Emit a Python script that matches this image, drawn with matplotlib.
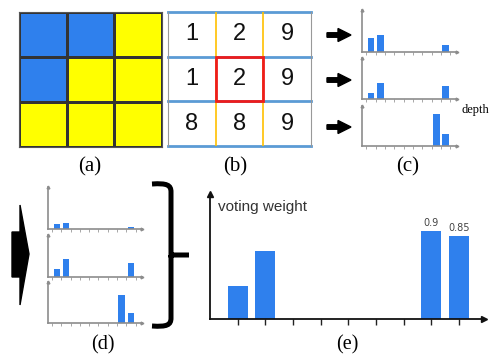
import numpy as np
import matplotlib
matplotlib.use("Agg")
import matplotlib.pyplot as plt
from matplotlib.colors import ListedColormap
from matplotlib.patches import Rectangle, Polygon, FancyArrow, PathPatch
from matplotlib.path import Path

# colour map of the 3x3 patch (1 = blue, 0 = yellow)
patch_cls = [[1, 1, 0],
             [1, 0, 0],
             [0, 0, 0]]
# depth values of the same patch
patch_depth = [[1, 2, 9],
               [1, 2, 9],
               [8, 8, 9]]

# per-row depth histograms (bin index 1..9)
bins = np.arange(1, 10)
hist_c = [[0.33, 0.40, 0, 0, 0, 0, 0, 0, 0.17],
          [0.14, 0.40, 0, 0, 0, 0, 0, 0, 0.31],
          [0, 0, 0, 0, 0, 0, 0, 0.81, 0.31]]
# weighted histograms
hist_d = [[0.12, 0.14, 0, 0, 0, 0, 0, 0, 0.05],
          [0.19, 0.43, 0, 0, 0, 0, 0, 0, 0.33],
          [0, 0, 0, 0, 0, 0, 0, 0.69, 0.24]]
# summed voting weight
vote = [0.34, 0.70, 0, 0, 0, 0, 0, 0.9, 0.85]
vote_labels = {8: "0.9", 9: "0.85"}

BLUE = "#2f80ed"
YELLOW = "#ffff00"
W, H = 494, 357

fig = plt.figure(figsize=(W / 100, H / 100), dpi=100)


def box(x0, y0, x1, y1):
    return [x0 / W, 1 - y1 / H, (x1 - x0) / W, (y1 - y0) / H]


def axis_arrows(ax, color, size, lw):
    for s in ["top", "right"]:
        ax.spines[s].set_visible(False)
    for s in ["left", "bottom"]:
        ax.spines[s].set_color(color)
        ax.spines[s].set_linewidth(lw)
    ax.plot(1, 0, ">", color=color, ms=size, transform=ax.get_yaxis_transform(), clip_on=False)
    ax.plot(0, 1, "^", color=color, ms=size, transform=ax.get_xaxis_transform(), clip_on=False)


# (a) colour grid
ax = fig.add_axes(box(19, 12, 162, 147))
ax.pcolormesh(np.array(patch_cls), cmap=ListedColormap([YELLOW, BLUE]),
              edgecolors="#333333", linewidth=0.8)
ax.set_xlim(0, 3)
ax.set_ylim(3, 0)
ax.set_xticks([])
ax.set_yticks([])
for s in ax.spines.values():
    s.set_color("#555555")
    s.set_linewidth(0.8)

# (b) depth grid
ax = fig.add_axes(box(168, 12, 311, 146))
ax.set_xlim(0, 3)
ax.set_ylim(3, 0)
ax.set_xticks([])
ax.set_yticks([])
for s in ["top", "bottom"]:
    ax.spines[s].set_visible(False)
for s in ["left", "right"]:
    ax.spines[s].set_color("#999999")
for y in range(4):
    ax.axhline(y, color="#5b9bd5", lw=2, clip_on=False)
for x in [1, 2]:
    ax.axvline(x, color="#ffc000", lw=1.2)
for i, row in enumerate(patch_depth):
    for j, v in enumerate(row):
        ax.text(j + 0.5, i + 0.5, str(v), ha="center", va="center", fontsize=17,
                family="Liberation Sans", color="#111111")
ax.add_patch(Rectangle((1, 1), 1, 1, fill=False, edgecolor="#ee1c1c", lw=2, zorder=5))

# (c) and (d) small histograms
small_c = [(10, 52), (58, 99), (106, 146)]
small_d = [(187, 229), (235, 277), (282, 323)]
for rows, data, (x0, x1) in [(small_c, hist_c, (362, 457)), (small_d, hist_d, (48, 142))]:
    for (y0, y1), h in zip(rows, data):
        ax = fig.add_axes(box(x0, y0, x1, y1))
        ax.bar(bins, h, width=0.7, color=BLUE)
        ax.set_xlim(0.05, 10.2)
        ax.set_ylim(0, 1)
        ax.set_xticks(np.arange(0.5, 10, 1))
        ax.set_yticks([])
        ax.tick_params(axis="x", length=2, width=0.6, color="#999999", labelbottom=False)
        axis_arrows(ax, "#8c8c8c", 2, 1.2)

# (e) voting weight
ax = fig.add_axes(box(210, 194, 484, 319))
ax.bar(bins, vote, width=0.72, color=BLUE)
for k, lab in vote_labels.items():
    ax.text(k, vote[k - 1] + 0.03, lab, ha="center", va="bottom", fontsize=7, color="#444444")
ax.set_xlim(0, 9.9)
ax.set_ylim(0, 1.28)
ax.set_xticks(bins)
ax.set_yticks([])
ax.tick_params(axis="x", length=4, width=1, color="#222222", labelbottom=False)
axis_arrows(ax, "#111111", 5, 1.3)
ax.text(0.03, 0.9, "voting weight", transform=ax.transAxes, fontsize=11,
        color="#333333", va="center", family="Liberation Sans")

# overlay in pixel coordinates for arrows, brace and captions
ov = fig.add_axes([0, 0, 1, 1], zorder=-1)
ov.set_xlim(0, W)
ov.set_ylim(H, 0)
ov.axis("off")

for y in [35, 80, 127]:
    ov.add_patch(FancyArrow(327, y, 24, 0, width=4.5, head_width=13, head_length=13,
                            length_includes_head=True, color="black"))

ov.add_patch(Polygon([(12, 232), (20, 232), (20, 205), (29, 254), (20, 305), (20, 277), (12, 277)],
                     closed=True, color="black"))

verts = [(152, 184), (167, 183), (171, 185), (171, 192),
         (171, 250), (171, 253), (171, 255),
         (189, 255), (171, 255),
         (171, 257), (171, 260), (171, 318),
         (171, 325), (167, 327), (152, 326)]
codes = [Path.MOVETO, Path.CURVE4, Path.CURVE4, Path.CURVE4,
         Path.LINETO, Path.LINETO, Path.LINETO,
         Path.LINETO, Path.MOVETO,
         Path.LINETO, Path.LINETO, Path.LINETO,
         Path.CURVE4, Path.CURVE4, Path.CURVE4]
ov.add_patch(PathPatch(Path(verts, codes), fill=False, lw=3.6, color="black", capstyle="butt"))

for x, y, s in [(90, 167, "(a)"), (235, 167, "(b)"), (408, 167, "(c)")]:
    ov.text(x, y, s, ha="center", va="center", fontsize=15, family="Liberation Serif")
for x, s in [(103, "(d)"), (347, "(e)")]:
    ov.text(x, 345, s, ha="center", va="center", fontsize=14.5, family="Liberation Serif")
ov.text(461, 110, "depth", ha="left", va="center", fontsize=9, family="Liberation Serif")

fig.savefig("out.png", dpi=100)
